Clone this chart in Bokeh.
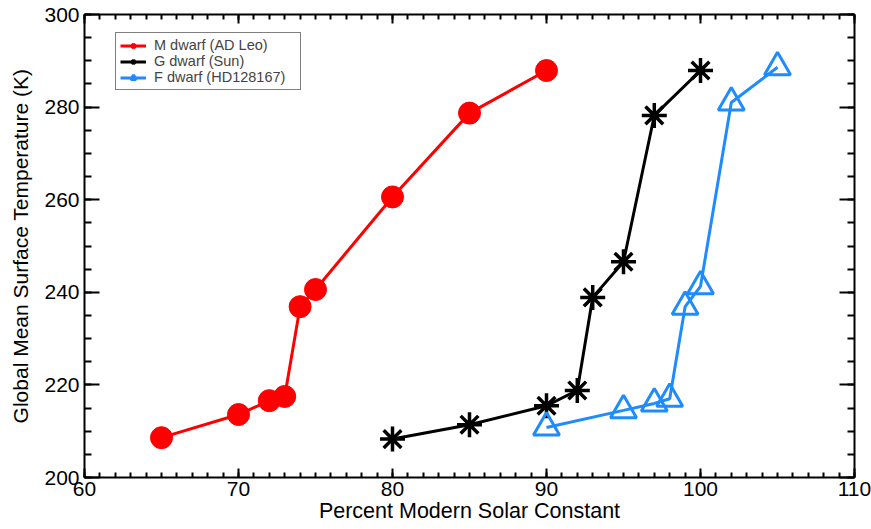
from bokeh.plotting import figure
from bokeh.models import (LinearAxis, SingleIntervalTicker, Range1d, Legend, LegendItem,
                          CustomJSTickFormatter)
from bokeh.embed import file_html
from bokeh.resources import INLINE

# Data
m_x = [65, 70, 72, 73, 74, 75, 80, 85, 90]
m_y = [208.6, 213.6, 216.6, 217.5, 236.9, 240.6, 260.6, 278.7, 287.9]
g_x = [80, 85, 90, 92, 93, 95, 97, 100]
g_y = [208.3, 211.4, 215.5, 218.8, 238.9, 246.6, 278.2, 287.9]
f_x = [90, 95, 97, 98, 99, 100, 102, 105]
f_y = [210.8, 214.5, 216.0, 217.0, 236.9, 241.3, 281.0, 288.6]

x_ticks = [60, 70, 80, 90, 100, 110]
y_ticks = [200, 220, 240, 260, 280, 300]

RED = "#FF0000"
BLUE = "#1E8CFF"
FONT = "Liberation Sans"

p = figure(width=871, height=529, output_backend="svg", toolbar_location=None,
           x_range=Range1d(60, 110), y_range=Range1d(200, 300),
           x_axis_location=None, y_axis_location=None,
           min_border_left=84, min_border_right=17, min_border_top=14, min_border_bottom=52)
p.xgrid.visible = False
p.ygrid.visible = False
p.outline_line_color = None
p.background_fill_color = "white"
p.border_fill_color = "white"

def style(ax, major_in, minor_in, labels=True):
    ax.axis_line_width = 2
    ax.axis_line_color = "black"
    ax.major_tick_in = major_in
    ax.major_tick_out = 0
    ax.minor_tick_in = minor_in
    ax.minor_tick_out = 0
    ax.major_tick_line_width = 2
    ax.minor_tick_line_width = 2
    ax.major_tick_line_color = "black"
    ax.minor_tick_line_color = "black"
    ax.major_label_text_font = FONT
    ax.major_label_text_color = "black"
    ax.major_label_text_font_size = "21px"
    if not labels:
        ax.formatter = CustomJSTickFormatter(code="return '';")
        ax.major_label_standoff = 0

xt = SingleIntervalTicker(interval=10, num_minor_ticks=10)
yt = SingleIntervalTicker(interval=20, num_minor_ticks=4)

xb = LinearAxis(ticker=xt, axis_label="Percent Modern Solar Constant")
style(xb, 9, 5)
xb.major_label_standoff = 4
xb.axis_label_standoff = 0
xb.axis_label_text_font = FONT
xb.axis_label_text_font_size = "21.5px"
xb.axis_label_text_font_style = "normal"
xb.axis_label_text_color = "black"
p.add_layout(xb, "below")

xtop = LinearAxis(ticker=xt)
style(xtop, 9, 5, labels=False)
p.add_layout(xtop, "above")

yl = LinearAxis(ticker=yt, axis_label="Global Mean Surface Temperature (K)")
style(yl, 15, 7)
yl.major_label_standoff = 5
yl.axis_label_standoff = 9
yl.axis_label_text_font = FONT
yl.axis_label_text_font_size = "21px"
yl.axis_label_text_font_style = "normal"
yl.axis_label_text_color = "black"
p.add_layout(yl, "left")

yr = LinearAxis(ticker=yt)
style(yr, 15, 7, labels=False)
p.add_layout(yr, "right")

# Series
ml = p.line(m_x, m_y, line_color=RED, line_width=3)
ms = p.scatter(m_x, m_y, marker="circle", size=22, fill_color=RED, line_color=RED)
gl = p.line(g_x, g_y, line_color="black", line_width=3)
gs = p.scatter(g_x, g_y, marker="asterisk", size=25, line_color="black", line_width=3.5)
fl = p.line(f_x, f_y, line_color=BLUE, line_width=3)
fs = p.scatter(f_x, f_y, marker="triangle", size=26, fill_color=None, line_color=BLUE, line_width=3)

legend = Legend(items=[
    LegendItem(label="M dwarf (AD Leo)", renderers=[ml, ms]),
    LegendItem(label="G dwarf (Sun)", renderers=[gl, gs]),
    LegendItem(label="F dwarf (HD128167)", renderers=[fl, fs]),
], location=(31, 387))
legend.label_text_font = FONT
legend.label_text_font_size = "14.5px"
legend.label_height = 13
legend.label_width = 142
legend.glyph_height = 13
legend.glyph_width = 26
legend.label_standoff = 8
legend.spacing = 0
legend.padding = 4
legend.margin = 0
legend.border_line_color = "black"
legend.border_line_width = 1
legend.background_fill_alpha = 1
p.add_layout(legend, "center")

open("out.html", "w").write(file_html(p, INLINE))
